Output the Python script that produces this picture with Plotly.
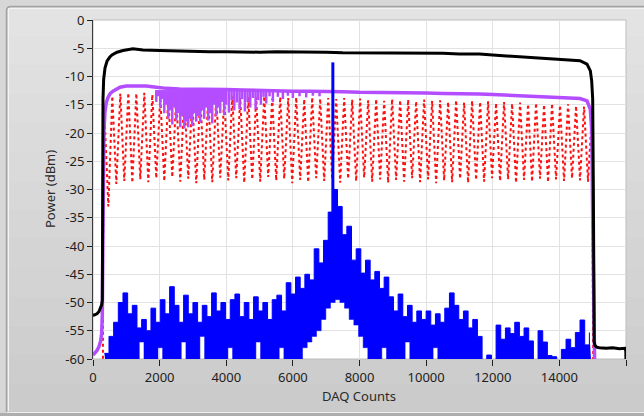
import numpy as np
import plotly.graph_objects as go

# ---------------- data ----------------
x_tick_vals = [0, 2000, 4000, 6000, 8000, 10000, 12000, 14000, 16000]
y_tick_vals = [0, -5, -10, -15, -20, -25, -30, -35, -40, -45, -50, -55, -60]

black_x = [0, 60, 120, 180, 230, 260, 280, 286, 292, 300,
           320, 360, 420, 500, 570, 720, 900, 1200, 1500, 2000,
           2500, 3000, 3500, 4000, 4500, 5000, 5500, 6000, 6500, 7000,
           7500, 8000, 8500, 9000, 9500, 10000, 10500, 11000, 11600, 12000,
           12500, 13000, 13600, 14000, 14300, 14620, 14830, 14930, 14970, 15000,
           15020, 15035, 15045, 15070, 15120, 15200, 15400, 15600, 15800, 15970,
           15995, 16000]
black_y = [-52.3, -52.2, -52.0, -51.6, -51.0, -50.4, -49.6, -45, -30, -14,
           -10.5, -8.5, -7.3, -6.6, -6.2, -5.7, -5.4, -5.1, -5.3, -5.4,
           -5.5, -5.5, -5.6, -5.6, -5.7, -5.7, -5.6, -5.6, -5.7, -5.7,
           -5.8, -5.8, -5.8, -5.9, -5.9, -5.9, -5.9, -6.0, -6.0, -6.2,
           -6.4, -6.5, -6.8, -6.9, -7.0, -7.2, -7.8, -9.0, -10.8, -14,
           -30, -50, -57, -57.6, -57.9, -58.0, -58.1, -58.0, -58.2, -58.1,
           -58.6, -61]

purple_x = [0, 60, 120, 180, 230, 260, 280, 295, 310, 330,
            360, 400, 450, 520, 600, 700, 810, 1000, 1300, 1600,
            1900, 2200, 2600, 3000, 3500, 4000, 4500, 5000, 5500, 6000,
            6500, 7000, 7500, 8000, 8500, 9000, 9500, 10000, 10500, 11000,
            11600, 12000, 12500, 13000, 13600, 14000, 14300, 14620, 14830, 14930,
            14975, 15000, 15020, 15040, 15060]
purple_y = [-59.3, -59.0, -58.5, -57.8, -56.8, -55.5, -52, -40, -26, -19.5,
            -16.2, -14.6, -13.7, -13.0, -12.6, -12.2, -11.9, -11.7, -11.7, -11.7,
            -11.9, -12.1, -12.2, -12.2, -12.3, -12.3, -12.4, -12.5, -12.5, -12.6,
            -12.6, -12.6, -12.7, -12.8, -12.8, -12.9, -12.9, -12.9, -13.0, -13.0,
            -13.1, -13.2, -13.3, -13.4, -13.6, -13.7, -13.8, -13.9, -14.3, -15.8,
            -20, -35, -52, -58, -61]

purple_dip_x = [1900, 1960, 2020, 2080, 2140, 2200, 2260, 2320, 2380, 2440,
                2500, 2560, 2620, 2680, 2740, 2800, 2860, 2920, 2980, 3040,
                3100, 3160, 3220, 3280, 3340, 3400, 3460, 3520, 3580, 3640,
                3700, 3760, 3820, 3880, 3940, 4000, 4080, 4160, 4240, 4320,
                4400, 4480, 4560, 4640, 4720, 4800, 4880, 4960, 5040, 5120,
                5200, 5300, 5400, 5550, 5700, 5850, 6000, 6200, 6400, 6600,
                6800]
purple_dip_y = [-14.5, -13.5, -15.5, -14, -16.5, -15, -17.5, -16, -18.5, -15.5,
                -17.8, -16.5, -19, -17, -19.2, -18, -19, -17.5, -18.8, -16.5,
                -18, -17, -18.2, -16, -17.5, -15.5, -17.8, -16.5, -18.3, -15,
                -17, -15.5, -16.5, -14.5, -16.8, -15, -16.4, -14.2, -16, -14.6,
                -15.8, -14, -16.2, -14.5, -15.5, -13.8, -15.8, -14.2, -15, -13.6,
                -14.8, -13.5, -14.5, -13.6, -14, -13.4, -13.8, -13.5, -13.7, -13.4,
                -13.5]
purple_base = -12.4

# red dotted trace: alternating column tops / bottoms, sampled every 120 counts
red_sample_x = np.arange(340, 14981, 120)
red_tops = [-16, -13.5, -13, -12.9, -13, -12.9, -13.2, -13.5, -13.3, -13.6,
            -13.4, -13.8, -13.3, -13.6, -13.4, -13.7, -13.5, -13.8, -13.6, -13.7,
            -13.5, -13.9, -13.6, -13.8, -13.7, -14, -13.7, -13.9, -13.8, -14,
            -13.8, -14.1, -13.9, -14.2, -14, -14.3, -14, -14.2, -14.1, -14.4,
            -14.1, -14.3, -14.2, -14.5, -14.2, -14.6, -14.3, -14.5, -14.4, -14.7,
            -14.5, -14.8, -14.6, -14.9, -14.7, -15, -14.8, -15.1, -14.9, -15.2,
            -15.3, -16]
red_bottoms = [-33, -29, -28.5, -28.8, -28.2, -28.7, -28, -28.5, -27.8, -28.6,
               -28.1, -28.9, -28.3, -28.7, -27.9, -28.4, -28, -28.8, -28.2, -28.6,
               -27.8, -28.4, -28.1, -28.9, -28.3, -28.7, -28, -28.5, -28.2, -28.8,
               -28.1, -28.5, -27.9, -28.6, -28.2, -28.8, -28.3, -28.6, -28, -28.7,
               -28.2, -28.9, -28.4, -28.7, -28.1, -28.8, -28.3, -28.6, -28, -28.5,
               -28.2, -28.8, -28.3, -28.6, -28.1, -28.7, -28.2, -28.5, -28, -28.4,
               -28.6]
red_lead_x, red_lead_y = [298, 303], [-61, -40]
red_tail_x, red_tail_y = [15000, 15015], [-40, -61]

# blue noise spectrum: upper envelope (peaks) and lower envelope (troughs)
blue_top_x = np.arange(340, 14901, 140)
blue_highs = [-59, -56, -53.5, -50, -48.3, -52, -50.5, -54.5, -53, -55,
              -51, -53.5, -49.5, -52, -47.2, -50.5, -53.5, -48.7, -52, -50,
              -53.5, -50.5, -52.5, -48.3, -51.5, -50, -53, -49.5, -48.5, -52.5,
              -50, -53, -49, -51.5, -50, -53, -49.5, -48.7, -51.5, -46.5,
              -48.5, -45.5, -47.5, -45, -46, -40.5, -43, -39, -34, -30,
              -33, -38, -36.5, -42.5, -40.5, -44.8, -42.5, -46, -44.5, -47.5,
              -45.5, -49, -51.5, -48.5, -52.5, -50.5, -53.5, -51.5, -53, -51.5,
              -54, -52, -53.5, -51, -48.3, -50.5, -53, -51.5, -54.5, -53,
              -56, -61, -59.3, -61, -54, -56.5, -54.5, -55.5, -53.5, -56,
              -54.5, -56.8, -61, -55, -57, -59.4, -59.6, -61, -58.3, -56.5,
              -58, -55.3, -53.1, -57.5, -55.3]
blue_bottom_x = np.arange(410, 14971, 140)
blue_lows = [-62, -62, -62, -60, -62, -62, -62, -57, -62, -62,
             -62, -58, -62, -62, -62, -62, -57, -62, -62, -62,
             -56, -62, -62, -62, -62, -62, -58, -62, -62, -62,
             -62, -62, -57, -62, -62, -62, -62, -58, -62, -62,
             -62, -60, -58, -57, -56, -55, -53, -51, -50, -49.5,
             -50, -51, -53, -54, -56, -58, -60, -62, -62, -58,
             -62, -62, -62, -62, -57, -62, -62, -62, -62, -62,
             -58, -62, -62, -62, -62, -62, -62, -62, -62, -62,
             -62, -62, -62, -62, -62, -62, -62, -62, -62, -62,
             -62, -62, -62, -62, -62, -62, -62, -62, -62, -62,
             -62, -62, -62, -62, -62]
blue_spike_x = [7200, 7200]
blue_spike_y = [-34, -7.5]

# ---------------- assemble traces ----------------
red_vals = []
for i, t in enumerate(red_tops):
    red_vals.append(t)
    if i < len(red_bottoms):
        red_vals.append(red_bottoms[i])
red_x = list(red_lead_x) + list(red_sample_x[:len(red_vals)]) + list(red_tail_x)
red_y = list(red_lead_y) + red_vals + list(red_tail_y)

dip_x, dip_y = [], []
for dx, dy in zip(purple_dip_x, purple_dip_y):
    dip_x += [dx, dx, None]
    dip_y += [purple_base, dy, None]

PURPLE = "#b44dff"
BLUE = "#0000ff"
fig = go.Figure()
fig.add_trace(go.Scatter(x=red_x, y=red_y, mode="lines",
                         line=dict(color="#ff1010", width=2, dash="dot")))
fig.add_trace(go.Scatter(x=dip_x, y=dip_y, mode="lines",
                         line=dict(color=PURPLE, width=2.5)))
fig.add_trace(go.Scatter(x=purple_x, y=purple_y, mode="lines",
                         line=dict(color=PURPLE, width=3.5)))
fig.add_trace(go.Scatter(x=list(blue_bottom_x), y=blue_lows, mode="lines",
                         line=dict(color=BLUE, width=0.5, shape="hv")))
fig.add_trace(go.Scatter(x=list(blue_top_x), y=blue_highs, mode="lines",
                         fill="tonexty", fillcolor=BLUE,
                         line=dict(color=BLUE, width=1, shape="hv")))
fig.add_trace(go.Scatter(x=blue_spike_x, y=blue_spike_y, mode="lines",
                         line=dict(color=BLUE, width=3)))
fig.add_trace(go.Scatter(x=black_x, y=black_y, mode="lines",
                         line=dict(color="#000000", width=3)))

# ---------------- layout ----------------
W, H = 644, 416
L, R, T, B = 93, 18, 20, 57
PW, PH = W - L - R, H - T - B


def px_x(p):
    return (p - L) / PW


def px_y(p):
    return (H - B - p) / PH


shapes = []
n_bands = 14
top, bot = 8, 412
c0, c1 = np.array([228, 228, 228]), np.array([203, 203, 203])
for i in range(n_bands):
    y0 = top + (bot - top) * i / n_bands
    y1 = top + (bot - top) * (i + 1) / n_bands
    c = (c0 + (c1 - c0) * (i + 0.5) / n_bands).astype(int)
    shapes.append(dict(type="rect", xref="paper", yref="paper", layer="below",
                       x0=px_x(8), x1=px_x(660), y0=px_y(y1), y1=px_y(y0),
                       fillcolor="rgb(%d,%d,%d)" % tuple(c), line=dict(width=0)))
shapes.append(dict(type="path", xref="paper", yref="paper", layer="below",
                   path="M %f %f L %f %f Q %f %f %f %f L %f %f" % (
                       px_x(6.5), px_y(412), px_x(6.5), px_y(11),
                       px_x(6.5), px_y(6.5), px_x(11), px_y(6.5),
                       px_x(660), px_y(6.5)),
                   line=dict(color="#a2a2a2", width=1.5)))
shapes.append(dict(type="path", xref="paper", yref="paper", layer="below",
                   path="M %f %f L %f %f L %f %f" % (
                       px_x(8.5), px_y(411), px_x(8.5), px_y(8.5),
                       px_x(660), px_y(8.5)),
                   line=dict(color="#f4f4f4", width=1)))
shapes.append(dict(type="rect", xref="paper", yref="paper", layer="below",
                   x0=px_x(0), x1=px_x(660), y0=px_y(420), y1=px_y(413),
                   fillcolor="#aeaeae", line=dict(width=0)))
shapes.append(dict(type="line", xref="paper", yref="paper", layer="below",
                   x0=px_x(7), x1=px_x(660), y0=px_y(412.5), y1=px_y(412.5),
                   line=dict(color="#eeeeee", width=1)))
shapes.append(dict(type="rect", xref="paper", yref="paper", layer="below",
                   x0=0, x1=1, y0=0, y1=1, fillcolor="white",
                   line=dict(color="#bdbdbd", width=1)))

FONT = "Noto Sans, Open Sans, DejaVu Sans, sans-serif"
fig.update_layout(
    width=W, height=H,
    margin=dict(l=L, r=R, t=T, b=B, pad=0),
    paper_bgcolor="#d7d7d7",
    plot_bgcolor="white",
    showlegend=False,
    hovermode=False,
    font=dict(family=FONT, size=13, color="#1e1e1e"),
    shapes=shapes,
    xaxis=dict(range=[0, 16000], tickvals=x_tick_vals,
               ticktext=[str(v) for v in x_tick_vals],
               showgrid=True, gridcolor="#e2e2e2", gridwidth=1,
               zeroline=False, showline=False,
               ticks="outside", ticklen=6, tickcolor="#202020", tickwidth=1,
               tickfont=dict(size=13, family=FONT, color="#1e1e1e")),
    yaxis=dict(range=[-60, 0], tickvals=y_tick_vals,
               ticktext=[str(v) for v in y_tick_vals],
               showgrid=True, gridcolor="#e2e2e2", gridwidth=1,
               zeroline=False, showline=True, linecolor="#3a3a3a", linewidth=1,
               ticks="outside", ticklen=5, tickcolor="#202020", tickwidth=1,
               tickfont=dict(size=13, family=FONT, color="#1e1e1e")),
    annotations=[
        dict(text="Power (dBm)", xref="paper", yref="paper",
             x=px_x(50), y=px_y(189), xanchor="center", yanchor="middle",
             textangle=-90, showarrow=False,
             font=dict(size=13, family=FONT, color="#2a2a2a")),
        dict(text="DAQ Counts", xref="paper", yref="paper",
             x=px_x(358.5), y=px_y(396), xanchor="center", yanchor="middle",
             showarrow=False,
             font=dict(size=13, family=FONT, color="#2a2a2a")),
    ],
)

fig.write_html("out.html", config={"displayModeBar": False},
               post_script="document.body.style.margin='0';"
                           "document.body.style.overflow='hidden';")
